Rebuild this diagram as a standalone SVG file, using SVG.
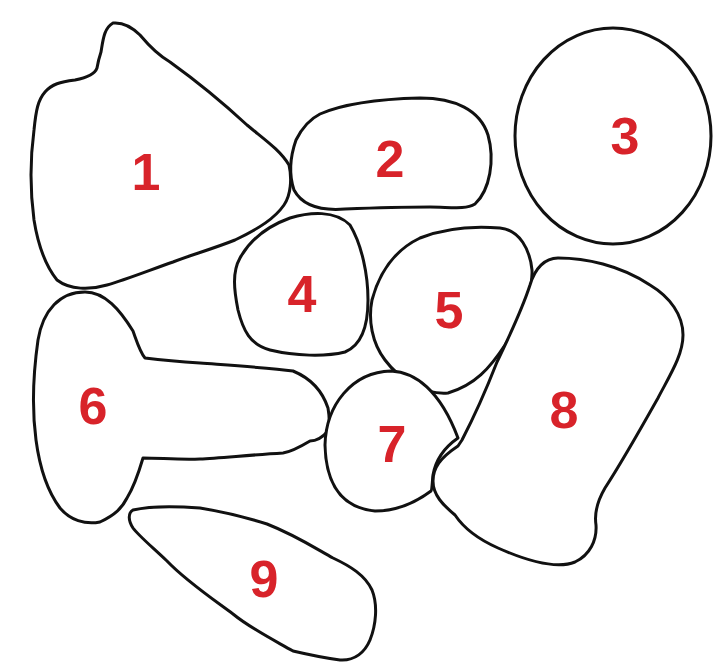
<svg xmlns="http://www.w3.org/2000/svg" width="716" height="662" viewBox="0 0 716 662">
<style>
.s{fill:#fff;stroke:#111;stroke-width:3;stroke-linejoin:round}
.t{font-family:"Liberation Sans",Arial,sans-serif;font-weight:bold;font-size:52px;fill:#d8232a;text-anchor:middle}
</style>
<rect width="716" height="662" fill="#fff"/>
<g id="n1"><path class="s" d="M113,23 C124,22 132,27 140,35 C150,47 158,55 170,62 C195,80 220,100 247,125 C265,140 280,150 289,165 C292,178 291,195 284,205 C275,218 260,228 235,240 C210,250 190,255 173,262 C150,270 125,280 107,285 C90,290 70,290 57,280 C45,265 38,245 34,220 C30,190 30,160 34,130 C36,110 38,100 45,92 C52,84 60,82 75,80 C85,78 95,74 97,68 C98,62 99,58 101,52 C103,40 104,28 113,23 Z"/><text class="t" x="146" y="190">1</text></g>
<g id="n2"><path class="s" d="M320,114 C345,103 380,99 420,98 C455,98 480,110 488,135 C495,160 490,190 475,204 C465,210 450,207 430,207 C400,207 370,208 345,209 C320,211 302,205 294,190 C289,175 289,160 296,140 C302,128 310,119 320,114 Z"/><text class="t" x="390" y="177">2</text></g>
<g id="n3"><ellipse class="s" cx="613" cy="136" rx="98" ry="108"/><text class="t" x="625" y="154">3</text></g>
<g id="n4"><path class="s" d="M240,258 C250,240 268,226 290,218 C310,212 335,210 350,225 C362,245 368,275 368,300 C368,325 362,345 345,352 C325,357 295,356 270,350 C250,345 243,330 238,310 C234,290 232,272 240,258 Z"/><text class="t" x="302" y="312">4</text></g>
<g id="n5"><path class="s" d="M372,300 C380,270 395,250 420,238 C445,228 475,226 500,228 C520,230 530,250 532,270 C533,295 520,320 505,345 C490,368 475,385 448,393 C425,395 400,380 385,360 C372,343 368,320 372,300 Z"/><text class="t" x="449" y="328">5</text></g>
<g id="n6"><path class="s" d="M85,292 C105,292 120,310 133,331 C137,342 140,352 145,358 C170,361 185,362 200,363 C240,366 270,368 293,371 C310,378 322,390 328,408 C330,420 330,425 328,431 C322,438 315,441 310,441 C300,447 290,452 283,453 C250,455 220,458 200,459 C180,460 160,458 143,458 C138,475 132,490 127,498 C122,508 115,515 100,522 C85,525 70,520 60,508 C48,492 40,470 36,440 C32,410 33,375 38,340 C43,310 60,292 85,292 Z"/><text class="t" x="93" y="424">6</text></g>
<g id="n7"><path class="s" d="M391,371 C415,372 440,390 458,438 C445,447 436,458 433,475 C432,485 432,490 431,491 C415,503 395,511 375,511 C345,508 326,488 325,445 C326,405 352,372 391,371 Z"/><text class="t" x="392" y="462">7</text></g>
<g id="n8"><path class="s" d="M558,258 C585,258 620,265 650,285 C670,297 683,315 683,335 C683,355 670,375 658,398 C640,430 620,465 605,488 C598,500 594,512 596,525 C597,540 590,555 575,562 C555,570 525,560 498,548 C480,540 465,530 455,515 C443,505 433,495 433,481 C433,468 440,458 458,446 L462,440 C475,415 488,385 497,362 C510,335 522,310 530,285 C535,268 545,258 558,258 Z"/><text class="t" x="564" y="428">8</text></g>
<g id="n9"><path class="s" d="M133,510 C150,506 175,506 200,508 C225,512 248,518 267,524 C295,535 315,548 333,558 C350,566 365,575 372,590 C378,605 376,625 370,640 C365,652 355,661 340,660 C325,658 310,655 293,651 C270,638 250,628 233,614 C210,597 185,580 167,561 C150,545 138,535 133,528 C128,520 128,513 133,510 Z"/><text class="t" x="264" y="597">9</text></g>
<g id="connectors"></g>
</svg>
